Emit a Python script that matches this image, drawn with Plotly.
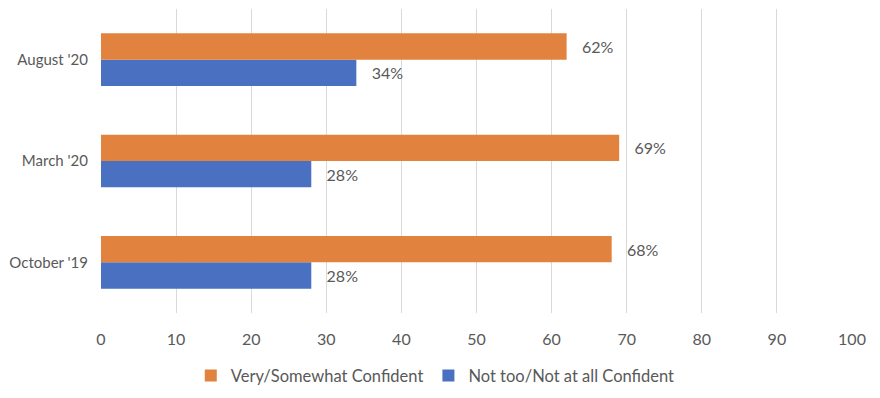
import plotly.graph_objects as go

categories = ["October '19", "March '20", "August '20"]
confident = [68, 69, 62]
not_confident = [28, 28, 34]
series_names = ["Very/Somewhat Confident", "Not too/Not at all Confident"]
x_ticks = [0, 10, 20, 30, 40, 50, 60, 70, 80, 90, 100]

ORANGE = "#E2823F"
BLUE = "#4A70C1"
TEXT = "#595959"
FONT = "Lato, Open Sans, sans-serif"
FS = 16

fig = go.Figure()
fig.add_trace(go.Bar(y=categories, x=not_confident, orientation="h", name=series_names[1],
                     marker=dict(color=BLUE, line=dict(width=0)), legendrank=2))
fig.add_trace(go.Bar(y=categories, x=confident, orientation="h", name=series_names[0],
                     marker=dict(color=ORANGE, line=dict(width=0)), legendrank=1))

# page body has an 8px default margin: compensate in size and margins
fig.update_layout(
    width=872, height=390,
    margin=dict(l=93, r=28, t=1, b=85),
    paper_bgcolor="white", plot_bgcolor="white",
    barmode="group", bargap=0.48, bargroupgap=0,
    font=dict(family=FONT, size=FS, color=TEXT),
    showlegend=True,
    legend=dict(orientation="h", xref="container", x=0.49, xanchor="center",
                yref="container", y=0.012, yanchor="bottom",
                font=dict(family=FONT, size=16.5, color=TEXT), itemwidth=30),
    xaxis=dict(range=[0, 100], tickvals=x_ticks, showgrid=True, gridcolor="#D9D9D9",
               gridwidth=1, zeroline=False, showline=False, ticks="", automargin=False,
               ticklabelstandoff=15, tickfont=dict(size=FS, color=TEXT), fixedrange=True),
    yaxis=dict(showgrid=False, zeroline=False, showline=False, ticks="", automargin=False,
               ticklabelstandoff=12, tickfont=dict(size=15, color=TEXT), fixedrange=True),
)

for tr in fig.data:
    tr.text = [f"{v}%" for v in tr.x]
    tr.textposition = "outside"
    tr.textfont = dict(family=FONT, size=FS, color=TEXT)
    tr.cliponaxis = False
    tr.texttemplate = "   %{text}"

fig.write_html("out.html")
